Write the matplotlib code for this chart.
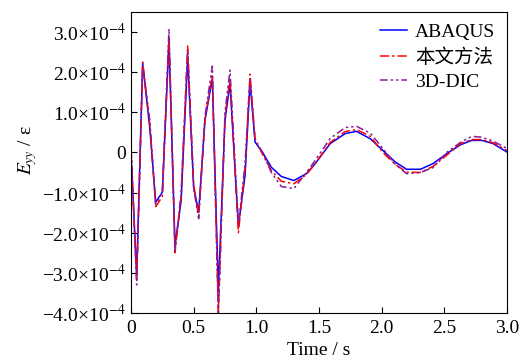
import numpy as np
import matplotlib
matplotlib.use("Agg")
import matplotlib.pyplot as plt
from matplotlib.ticker import FuncFormatter

plt.rcParams['font.family'] = ['Liberation Serif', 'Noto Sans CJK SC']
plt.rcParams['mathtext.fontset'] = 'stix'
plt.rcParams['axes.unicode_minus'] = True

# time (s) and strain values in units of 1e-4
t = [0, 0.045, 0.093, 0.15, 0.197, 0.25, 0.303, 0.351, 0.40, 0.452, 0.50, 0.54,
     0.59, 0.649, 0.697, 0.75, 0.79, 0.857, 0.91, 0.95, 0.99, 1.05, 1.12, 1.2,
     1.3, 1.4, 1.47, 1.59, 1.71, 1.8, 1.91, 2.01, 2.11, 2.2, 2.31, 2.41, 2.52,
     2.63, 2.72, 2.8, 2.89, 3.0]
abaqus = [0, -3.07, 2.22, 0.6, -1.24, -0.99, 2.78, -2.33, -1.2, 2.37, -0.87, -1.49,
          0.8, 1.84, -3.41, 0.8, 1.72, -1.83, -0.58, 1.76, 0.26, 0.0, -0.37, -0.6,
          -0.7, -0.53, -0.28, 0.22, 0.47, 0.525, 0.34, 0.05, -0.24, -0.42, -0.42, -0.28, -0.03,
          0.19, 0.3, 0.3, 0.22, 0.01]
method = [0.1, -3.15, 2.25, 0.7, -1.35, -1.1, 2.9, -2.5, -1.1, 2.65, -0.8, -1.6,
          0.8, 1.95, -4.0, 0.9, 1.85, -2.0, -0.4, 1.95, 0.35, -0.05, -0.45, -0.72,
          -0.78, -0.55, -0.28, 0.25, 0.52, 0.57, 0.4, 0.0, -0.3, -0.49, -0.5, -0.35, -0.07,
          0.22, 0.32, 0.32, 0.24, 0.05]
dic = [0.2, -3.3, 2.15, 0.8, -1.3, -1.0, 3.08, -2.45, -1.0, 2.5, -0.9, -1.65,
       0.9, 2.15, -4.1, 1.0, 2.05, -1.8, -0.3, 1.85, 0.3, 0.0, -0.5, -0.85,
       -0.9, -0.5, -0.2, 0.35, 0.62, 0.65, 0.48, 0.1, -0.3, -0.53, -0.5, -0.38, 0.0,
       0.25, 0.4, 0.38, 0.28, 0.1]

scale = 1e-4

fig = plt.figure(figsize=(5.22, 3.61), dpi=100)
ax = fig.add_axes([0.251, 0.133, 0.72, 0.834])

ax.plot(t, np.array(abaqus) * scale, color='#0000ff', lw=1.1, label='ABAQUS')
ax.plot(t, np.array(method) * scale, color='#ff0000', lw=1.1,
        dashes=[6, 2, 1.5, 2], label='本文方法')
ax.plot(t, np.array(dic) * scale, color='#8a1a9a', lw=1.1,
        dashes=[5, 2, 1.5, 2, 1.5, 2], label='3D-DIC')

ax.set_xlim(0, 3.0)
ax.set_ylim(-4e-4, 3.5e-4)
ax.set_xticks(np.arange(0, 3.01, 0.5))
ax.set_yticks(np.arange(-4, 3.1, 1) * scale)


def xfmt(v, pos):
    return '0' if abs(v) < 1e-9 else f'{v:.1f}'


def yfmt(v, pos):
    m = v / scale
    if abs(m) < 1e-9:
        return '0'
    sign = '\u2212' if m < 0 else ''
    return sign + f'{abs(m):.1f}×10' + r'$^{-4}$'


ax.xaxis.set_major_formatter(FuncFormatter(xfmt))
ax.yaxis.set_major_formatter(FuncFormatter(yfmt))
ax.tick_params(direction='in', labelsize=14, length=4)
ax.tick_params(axis='x', pad=5)

ax.set_xlabel('Time / s', fontsize=14, labelpad=4)
ax.set_ylabel(r'$E_{yy}$ / ε', fontsize=14)
ax.yaxis.set_label_coords(-0.245, 0.54)

ax.legend(loc='upper right', frameon=False, fontsize=14, handlelength=1.4,
          handletextpad=0.4, labelspacing=0.35, borderpad=0.3, borderaxespad=0.3)

fig.savefig('out.png', dpi=100)
